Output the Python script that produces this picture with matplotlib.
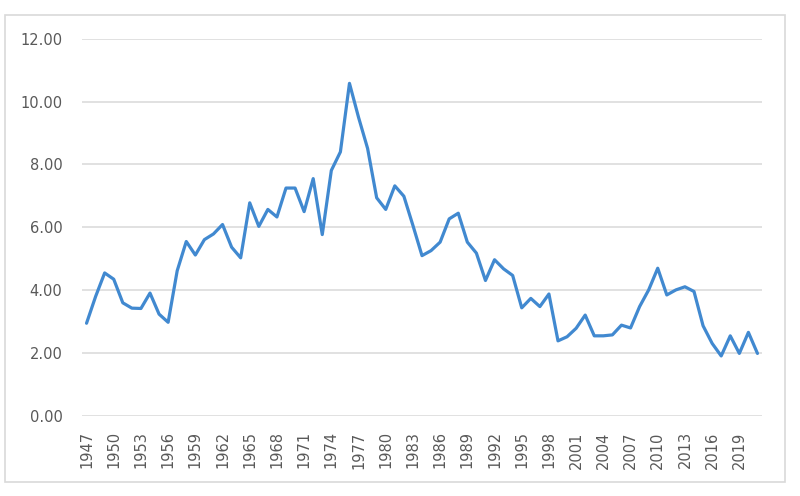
import matplotlib
matplotlib.use("Agg")
import matplotlib.pyplot as plt
from matplotlib.patches import Rectangle

years = list(range(1947, 2022))
values = [
    2.95, 3.80, 4.55, 4.35, 3.60, 3.43, 3.42, 3.91, 3.24, 2.98,  # 1947-1956
    4.62, 5.55, 5.12, 5.61, 5.79, 6.09, 5.37, 5.03, 6.78, 6.03,  # 1957-1966
    6.57, 6.33, 7.25, 7.25, 6.50, 7.55, 5.77, 7.81, 8.40, 10.58,  # 1967-1976
    9.50, 8.51, 6.94, 6.57, 7.32, 6.99, 6.06, 5.10, 5.26, 5.53,  # 1977-1986
    6.27, 6.45, 5.53, 5.18, 4.31, 4.97, 4.68, 4.47, 3.44, 3.74,  # 1987-1996
    3.48, 3.88, 2.39, 2.52, 2.79, 3.21, 2.55, 2.55, 2.58, 2.89,  # 1997-2006
    2.80, 3.48, 4.01, 4.70, 3.85, 4.01, 4.11, 3.96, 2.87, 2.31,  # 2007-2016
    1.91, 2.55, 1.99, 2.66, 1.99,  # 2017-2021
]
tick_years = list(range(1947, 2020, 3))
y_ticks = [0, 2, 4, 6, 8, 10, 12]

fig = plt.figure(figsize=(8.0, 4.96), dpi=100)
ax = fig.add_axes([82 / 800, 80 / 496, 680 / 800, 377.3 / 496])

# light frame around the whole chart, like the Excel chart area
fig.patches.append(Rectangle((5 / 800, 14 / 496), 780 / 800, 467 / 496,
                             transform=fig.transFigure, fill=False,
                             edgecolor="#d9d9d9", linewidth=1.2))

ax.plot(years, values, color="#4189d0", linewidth=2.3,
        solid_joinstyle="round", solid_capstyle="round", zorder=3)

ax.set_xlim(1946.5, 2021.5)
ax.set_ylim(0, 12)
ax.set_yticks(y_ticks)
ax.set_yticklabels([f"{v:.2f}" for v in y_ticks])
ax.set_xticks(tick_years)
ax.set_xticklabels([str(y) for y in tick_years], rotation=90)
ax.yaxis.grid(True, color="#d9d9d9", linewidth=1.1)
ax.set_axisbelow(True)
ax.tick_params(axis="both", length=0, labelsize=10.5, labelcolor="#595959")
ax.tick_params(axis="y", pad=14)
ax.tick_params(axis="x", pad=11)
for s in ax.spines.values():
    s.set_visible(False)

fig.savefig("out.png", dpi=100)
